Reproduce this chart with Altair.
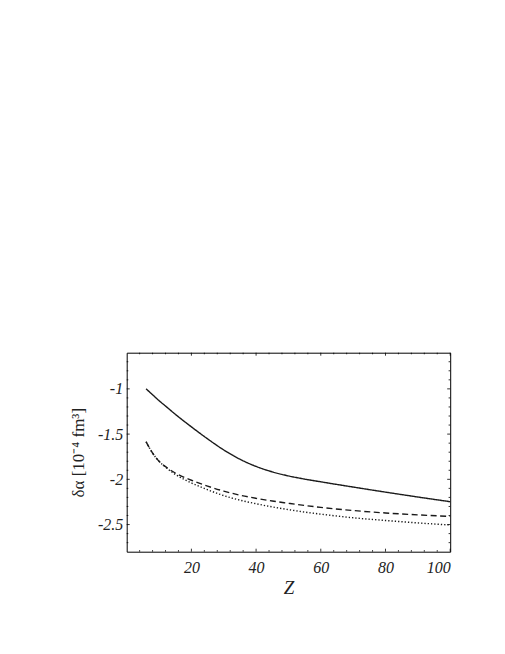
import altair as alt
import pandas as pd

# ---- data ----
Z = [6, 8, 10, 12, 15, 20, 25, 30, 35, 40, 45, 50, 55, 60, 70, 80, 90, 100]
solid = [-1.00, -1.065, -1.13, -1.19, -1.28, -1.42, -1.5525, -1.675, -1.7775, -1.8575,
         -1.9175, -1.9625, -1.9975, -2.0275, -2.0855, -2.1415, -2.1955, -2.2475]
dashed = [-1.585, -1.71, -1.80, -1.86, -1.93, -2.01, -2.075, -2.13, -2.175, -2.21,
          -2.24, -2.265, -2.289, -2.31, -2.345, -2.372, -2.393, -2.41]
dotted = [-1.585, -1.71, -1.80, -1.865, -1.945, -2.04, -2.115, -2.18, -2.23, -2.27,
          -2.305, -2.335, -2.362, -2.385, -2.425, -2.455, -2.482, -2.505]

x_major = [20, 40, 60, 80, 100]
x_minor = [4, 8, 12, 16, 24, 28, 32, 36, 44, 48, 52, 56, 64, 68, 72, 76, 84, 88, 92, 96]
y_major = [-2.5, -2.0, -1.5, -1.0]
y_minor = [-2.7, -2.6, -2.4, -2.3, -2.2, -2.1, -1.9, -1.8, -1.7, -1.6, -1.4,
           -1.3, -1.2, -1.1, -0.9, -0.8, -0.7]

W, H = 323.5, 199
FONT = "Liberation Serif, Times New Roman, serif"

rows = []
for name, vals in (("solid", solid), ("dashed", dashed), ("dotted", dotted)):
    for z, v in zip(Z, vals):
        rows.append({"Z": z, "v": v, "s": name})
df = pd.DataFrame(rows)

xs = alt.Scale(domain=[0, 100], nice=False, zero=False)
ys = alt.Scale(domain=[-2.8, -0.6], nice=False, zero=False)

xa = alt.Axis(values=x_major, ticks=False, domain=False, grid=False,
              labelFont=FONT, labelFontStyle="italic", labelFontSize=16,
              labelColor="#222", labelPadding=8,
              titleFont=FONT, titleFontStyle="italic", titleFontSize=19,
              titleFontWeight="normal", titleColor="#222", titlePadding=3)
ya = alt.Axis(values=y_major, ticks=False, domain=False, grid=False,
              labelExpr="'' + datum.value",
              labelFont=FONT, labelFontStyle="italic", labelFontSize=16,
              labelColor="#222", labelPadding=4,
              titleFont=FONT, titleFontSize=17, titleFontWeight="normal",
              titleColor="#222", titlePadding=10)
XT = "Z"
YT = "δα [10⁻⁴ fm³]"

lines = alt.Chart(df).mark_line(color="#1a1a1a", strokeWidth=1.4, interpolate="monotone").encode(
    x=alt.X("Z:Q", scale=xs, title=XT, axis=xa),
    y=alt.Y("v:Q", scale=ys, title=YT, axis=ya),
    strokeDash=alt.StrokeDash("s:N", scale=alt.Scale(domain=["solid", "dashed", "dotted"],
                                                     range=[[1, 0], [6, 3.5], [1.3, 2]]),
                              legend=None),
    detail="s:N",
)

xt_major = pd.DataFrame({"Z": x_major})
xt_minor = pd.DataFrame({"Z": x_minor})
yt_major = pd.DataFrame({"v": y_major})
yt_minor = pd.DataFrame({"v": y_minor})

tick_style = dict(color="black", strokeWidth=0.8)


def xtick(d, y0, y1):
    return alt.Chart(d).mark_rule(**tick_style).encode(
        x=alt.X("Z:Q", scale=xs, title=XT, axis=xa), y=alt.value(y0), y2=alt.value(y1))


def ytick(d, x0, x1):
    return alt.Chart(d).mark_rule(**tick_style).encode(
        y=alt.Y("v:Q", scale=ys, title=YT, axis=ya), x=alt.value(x0), x2=alt.value(x1))


chart = alt.layer(
    lines,
    xtick(xt_major, H, H - 3), xtick(xt_minor, H, H - 1.6),
    xtick(xt_major, 0, 3), xtick(xt_minor, 0, 1.6),
    ytick(yt_major, 0, 3), ytick(yt_minor, 0, 1.6),
    ytick(yt_major, W, W - 3), ytick(yt_minor, W, W - 1.6),
).properties(
    width=W, height=H,
    autosize=alt.AutoSizeParams(type="none"),
    padding={"left": 118.7, "top": 344.7, "right": 40, "bottom": 90},
    background="white",
).configure_view(stroke="black", strokeWidth=1)

chart.save("out.html", embed_options={"renderer": "svg", "actions": False})
